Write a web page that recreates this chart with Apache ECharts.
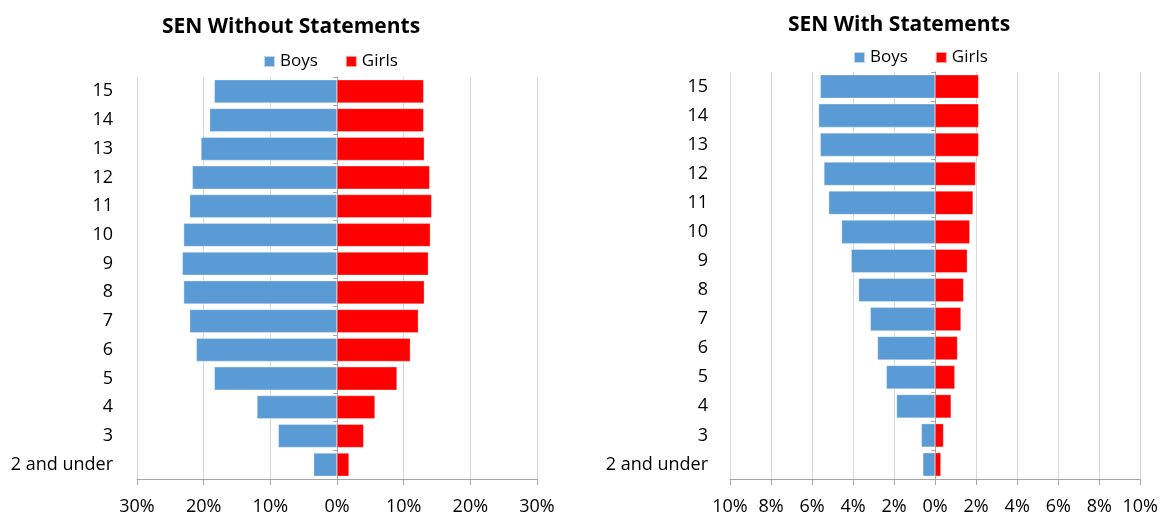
<!DOCTYPE html>
<html><head><meta charset="utf-8">
<script src="https://cdn.jsdelivr.net/npm/echarts@6/dist/echarts.min.js"></script>
<style>html,body{margin:0;padding:0;background:#fff}#c{width:1161px;height:516px}</style>
</head><body><div id="c"></div>
<script>
const categories = ['2 and under','3','4','5','6','7','8','9','10','11','12','13','14','15'];
// SEN without statements (% of pupils)
const boysWithout  = [3.5, 8.8, 12.0, 18.4, 21.1, 22.1, 23.0, 23.2, 23.0, 22.1, 21.7, 20.4, 19.1, 18.4];
const girlsWithout = [1.8, 4.0, 5.7, 9.0, 11.0, 12.2, 13.1, 13.7, 14.0, 14.2, 13.9, 13.1, 13.0, 13.0];
// SEN with statements (% of pupils)
const boysWith  = [0.6, 0.67, 1.88, 2.38, 2.81, 3.16, 3.73, 4.09, 4.56, 5.19, 5.42, 5.6, 5.68, 5.6];
const girlsWith = [0.28, 0.41, 0.78, 0.96, 1.09, 1.26, 1.39, 1.57, 1.69, 1.85, 1.97, 2.12, 2.12, 2.12];
const titles = ['SEN Without Statements', 'SEN With Statements'];

const FONT = 'Open Sans';
const BLUE = '#5B9BD5', RED = '#FF0000';
const chart = echarts.init(document.getElementById('c'), null, {renderer: 'canvas'});
const neg = a => a.map(v => -v);

function xAxis(grid, max, step) {
  return {
    type: 'value', gridIndex: grid, min: -max, max: max, interval: step,
    axisLine: {show: true, lineStyle: {color: '#a6a6a6'}},
    axisTick: {show: true, length: 6, lineStyle: {color: '#a6a6a6'}},
    splitLine: {show: true, lineStyle: {color: '#d9d9d9'}},
    axisLabel: {formatter: v => Math.abs(v) + '%', color: '#000', fontFamily: FONT, fontSize: 18, margin: 19}
  };
}
function yLabelAxis(grid, m) {
  return {
    type: 'category', gridIndex: grid, data: categories,
    axisLine: {show: false}, axisTick: {show: false},
    axisLabel: {color: '#000', fontFamily: FONT, fontSize: 18, margin: m}
  };
}
function yZeroAxis(grid, xi) {
  return {
    type: 'category', gridIndex: grid, data: categories, position: 'left',
    axisLine: {show: true, onZero: true, onZeroAxisIndex: xi, lineStyle: {color: '#a6a6a6'}},
    axisTick: {show: true, length: 4, lineStyle: {color: '#a6a6a6'}},
    axisLabel: {show: false}
  };
}
function bar(name, data, xi, yi, color) {
  return {
    name: name, type: 'bar', xAxisIndex: xi, yAxisIndex: yi, data: data,
    stack: 'g' + xi, barCategoryGap: '19%',
    itemStyle: {color: color, borderColor: 'rgba(255,255,255,0.6)', borderWidth: 0.5},
    emphasis: {disabled: true}
  };
}

chart.setOption({
  animation: false,
  title: [
    {text: titles[0], left: 291, top: 17, textAlign: 'center', padding: 0,
     textStyle: {fontFamily: FONT, fontWeight: 'bold', fontSize: 21, color: '#000'}},
    {text: titles[1], left: 899, top: 15, textAlign: 'center', padding: 0,
     textStyle: {fontFamily: FONT, fontWeight: 'bold', fontSize: 21, color: '#000'}}
  ],
  legend: [
    {data: ['Boys', 'Girls'], left: 263, top: 53, padding: 0, icon: 'rect', itemWidth: 11, itemHeight: 11, itemGap: 27,
     textStyle: {fontFamily: FONT, fontSize: 17, color: '#000'}, selectedMode: false},
    {data: ['Boys', 'Girls'], left: 853, top: 49, padding: 0, icon: 'rect', itemWidth: 11, itemHeight: 11, itemGap: 27,
     textStyle: {fontFamily: FONT, fontSize: 17, color: '#000'}, selectedMode: false}
  ],
  grid: [
    {left: 137, width: 400, top: 77, height: 403, containLabel: false},
    {left: 730, width: 412, top: 72, height: 409, containLabel: false}
  ],
  xAxis: [xAxis(0, 30, 10), xAxis(1, 10, 2)],
  yAxis: [yLabelAxis(0, 24), yLabelAxis(1, 22), yZeroAxis(0, 0), yZeroAxis(1, 1)],
  series: [
    bar('Boys', neg(boysWithout), 0, 0, BLUE),
    bar('Girls', girlsWithout, 0, 0, RED),
    bar('Boys', neg(boysWith), 1, 1, BLUE),
    bar('Girls', girlsWith, 1, 1, RED)
  ]
});
</script></body></html>
